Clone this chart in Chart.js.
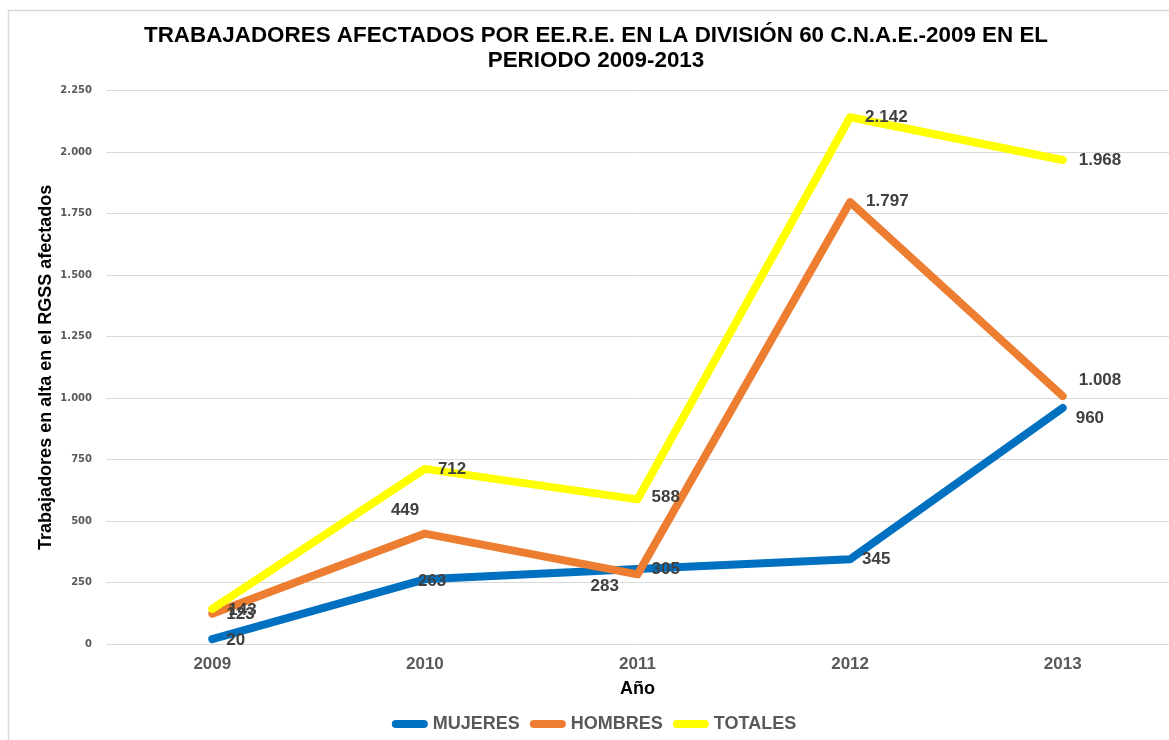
<!DOCTYPE html>
<html lang="es">
<head>
<meta charset="utf-8">
<title>Trabajadores afectados por EE.R.E. - División 60 C.N.A.E.-2009</title>
<script src="https://cdn.jsdelivr.net/npm/chart.js@4.4.1/dist/chart.umd.min.js"></script>
<style>
  html, body { margin: 0; padding: 0; background: #ffffff; }
  #wrap { width: 1169px; height: 740px; }
</style>
</head>
<body>
<div id="wrap"><canvas id="chart" width="1169" height="740"></canvas></div>
<script>
// Years on the category axis
const years = ['2009', '2010', '2011', '2012', '2013'];

// Workers affected, by sex and total
const mujeres = [20, 263, 305, 345, 960];
const hombres = [123, 449, 283, 1797, 1008];
const totales = [143, 712, 588, 2142, 1968];

// Value axis range
const yMin = 0;
const yMax = 2250;
const yStep = 250;

// Label placement (offset of the label's left edge from its point)
const labelOffsets = [
  [[14, 1], [-7, 2], [14, 0], [12, 0], [13, 10]],
  [[14, 1], [-34, -23], [-47, 12], [16, -1], [16, -16]],
  [[16, 1], [13, 0], [14, -2], [15, 0], [16, 0]]
];

// Spanish thousands separator: 1.750, 2.142
function fmt(v) {
  return String(v).replace(/\B(?=(\d{3})+(?!\d))/g, '.');
}

const FONT = "'Liberation Sans', Arial, sans-serif";

// Light frame around the chart
const framePlugin = {
  id: 'frame',
  beforeDraw(chart) {
    const ctx = chart.ctx;
    ctx.save();
    ctx.fillStyle = '#ffffff';
    ctx.fillRect(0, 0, chart.width, chart.height);
    ctx.strokeStyle = '#d9d9d9';
    ctx.lineWidth = 1.5;
    ctx.strokeRect(8.5, 10.5, chart.width + 20, chart.height + 20);
    ctx.restore();
  }
};

// Value labels next to each point
const valueLabels = {
  id: 'valueLabels',
  afterDatasetsDraw(chart) {
    const ctx = chart.ctx;
    ctx.save();
    ctx.font = 'bold 17px ' + FONT;
    ctx.fillStyle = '#404040';
    ctx.textAlign = 'left';
    ctx.textBaseline = 'middle';
    chart.data.datasets.forEach((ds, di) => {
      const meta = chart.getDatasetMeta(di);
      meta.data.forEach((pt, i) => {
        const off = labelOffsets[di][i];
        ctx.fillText(fmt(ds.data[i]), pt.x + off[0], pt.y + off[1]);
      });
    });
    ctx.restore();
  }
};

const lineStyle = {
  borderWidth: 8,
  borderCapStyle: 'round',
  borderJoinStyle: 'round',
  pointRadius: 0,
  pointHoverRadius: 0,
  tension: 0,
  fill: false
};

new Chart(document.getElementById('chart'), {
  type: 'line',
  data: {
    labels: years,
    datasets: [
      Object.assign({ label: 'MUJERES', data: mujeres, borderColor: '#0070C0', backgroundColor: '#0070C0', order: 3 }, lineStyle),
      Object.assign({ label: 'HOMBRES', data: hombres, borderColor: '#ED7D31', backgroundColor: '#ED7D31', order: 2 }, lineStyle),
      Object.assign({ label: 'TOTALES', data: totales, borderColor: '#FFFF00', backgroundColor: '#FFFF00', order: 1 }, lineStyle)
    ]
  },
  options: {
    responsive: false,
    animation: false,
    events: [],
    layout: { padding: { left: 23, right: 0, top: 0, bottom: -3 } },
    plugins: {
      title: {
        display: true,
        text: ['TRABAJADORES AFECTADOS POR EE.R.E. EN LA DIVISIÓN 60 C.N.A.E.-2009 EN EL', 'PERIODO 2009-2013'],
        color: '#000000',
        font: { family: FONT, size: 22.4, weight: 'bold', lineHeight: 1.12 },
        padding: { top: 23.5, bottom: 17 }
      },
      legend: {
        position: 'bottom',
        labels: {
          usePointStyle: true,
          pointStyle: 'line',
          pointStyleWidth: 28,
          boxHeight: 17,
          padding: 14,
          color: '#595959',
          font: { family: FONT, size: 18, weight: 'bold' },
          sort: (a, b) => a.datasetIndex - b.datasetIndex,
          generateLabels(chart) {
            const items = Chart.defaults.plugins.legend.labels.generateLabels(chart);
            items.forEach((it) => {
              it.lineCap = 'round';
              it.lineWidth = 8;
            });
            return items;
          }
        }
      },
      tooltip: { enabled: false }
    },
    scales: {
      x: {
        offset: true,
        afterFit(scale) { scale.height = 57; },
        grid: { display: false, drawTicks: false },
        border: { display: false },
        ticks: {
          padding: 10,
          color: '#595959',
          font: { family: FONT, size: 17, weight: 'bold' }
        },
        title: {
          display: true,
          text: 'Año',
          color: '#000000',
          font: { family: FONT, size: 18, weight: 'bold' },
          padding: { top: 4, bottom: 1 }
        }
      },
      y: {
        min: yMin,
        max: yMax,
        afterFit(scale) { scale.width = 83; },
        grid: { color: '#d9d9d9', lineWidth: 1, drawTicks: false },
        border: { display: false },
        ticks: {
          stepSize: yStep,
          padding: 14,
          color: '#595959',
          font: { family: "'DejaVu Sans', Verdana, sans-serif", size: 10, weight: 'bold' },
          callback: (v) => fmt(v)
        },
        title: {
          display: true,
          text: 'Trabajadores en alta en el RGSS afectados',
          color: '#000000',
          font: { family: FONT, size: 18, weight: 'bold' },
          padding: { top: 12 }
        }
      }
    }
  },
  plugins: [framePlugin, valueLabels]
});
</script>
</body>
</html>
